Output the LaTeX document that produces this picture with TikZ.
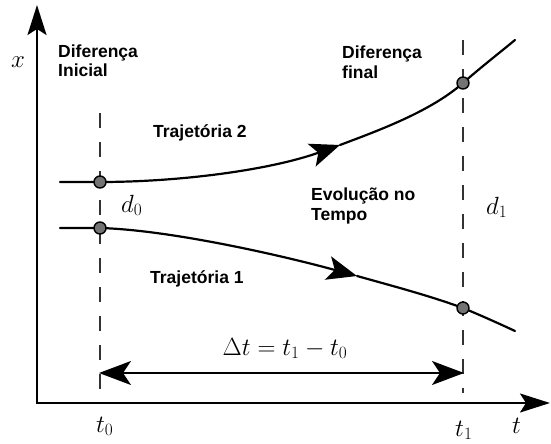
\documentclass[tikz,border=0pt]{standalone}
\usepackage{fontspec}
\setmainfont{Liberation Sans}
\usetikzlibrary{arrows.meta}
\begin{document}
\begin{tikzpicture}[x=1pt,y=-1pt,
  axis/.style={line width=2pt,-{Stealth[length=30pt,width=19pt,inset=6pt]}},
  traj/.style={line width=2.2pt,line cap=round},
  guide/.style={line width=1.7pt, dash pattern=on 15pt off 14pt, black!80},
  dot/.style={circle, draw=black, line width=1.4pt, fill=black!55, minimum size=12pt, inner sep=0pt},
  lbl/.style={font=\fontsize{17.5}{20}\selectfont\bfseries, anchor=base west, inner sep=0pt, text=black},
  mlbl/.style={font=\fontsize{23}{26}\selectfont, anchor=base west, inner sep=0pt},
  tipar/.style={-{Stealth[length=30pt,width=24pt,inset=7pt]}},
  dblar/.style={line width=1.8pt,{Stealth[length=32pt,width=24pt,inset=8pt]}-{Stealth[length=32pt,width=24pt,inset=8pt]}}
]
\useasboundingbox (0,0) rectangle (551,444);
% axes
\coordinate (O) at (37,403);
\coordinate (ytop) at (37,5);
\coordinate (xend) at (550,403);
\draw[axis] (O) -- (ytop);
\draw[axis] ([xshift=-1pt]O) -- (xend);
% guides
\coordinate (g0top) at (100,113);
\coordinate (g0bot) at (100,403);
\coordinate (g1top) at (463,40);
\coordinate (g1bot) at (463,393);
\draw[guide] (g0top) -- (g0bot);
\draw[guide] (g1top) -- (g1bot);
% trajectory 2
\coordinate (s2) at (60,182);
\coordinate (p2) at (100,182);
\coordinate (a2) at (340,145);
\coordinate (m2) at (463,83);
\coordinate (e2) at (515,40);
\draw[traj,tipar] (s2) -- (p2) .. controls (180,182) and (270,170) .. (a2);
\draw[traj] (a2) .. controls (377,131) and (430,112) .. (m2) .. controls (480,68) and (498,54) .. (e2);
% trajectory 1
\coordinate (s1) at (60,228);
\coordinate (p1) at (100,228);
\coordinate (a1) at (357,276);
\coordinate (m1) at (463,308);
\coordinate (e1) at (515,331);
\draw[traj,tipar] (s1) -- (p1) .. controls (170,230) and (280,255) .. (a1);
\draw[traj] (a1) .. controls (400,288) and (430,296) .. (m1) .. controls (480,315) and (500,324) .. (e1);
% markers
\node[dot] (d2a) at (p2) {};
\node[dot] (d1a) at (p1) {};
\node[dot] (d2b) at (m2) {};
\node[dot] (d1b) at (m1) {};
% delta t arrow
\coordinate (dl) at (99,373);
\coordinate (dr) at (464,373);
\draw[dblar] (dl) -- (dr);
% labels
\node[lbl] (di1) at (58,57) {Diferença};
\node[lbl] (di2) at (58,77) {Inicial};
\node[lbl] (df1) at (342,59) {Diferença};
\node[lbl] (df2) at (342,78) {final};
\node[lbl] (tr2) at (153,137) {Trajetória 2};
\node[lbl] (tr1) at (150,283) {Trajetória 1};
\node[lbl] (ev1) at (311,200) {Evolução no};
\node[lbl] (ev2) at (311,220) {Tempo};
\node[mlbl] (xl) at (11,67) {$x$};
\node[mlbl] (d0l) at (121,212) {$d_0$};
\node[mlbl] (d1l) at (486,214) {$d_1$};
\node[mlbl, anchor=base] (dtl) at (285,355) {$\Delta t = t_1 - t_0$};
\node[mlbl] (t0l) at (96,432) {$t_0$};
\node[mlbl] (t1l) at (455,436) {$t_1$};
\node[mlbl] (tl) at (512,433) {$t$};
\end{tikzpicture}
\end{document}
